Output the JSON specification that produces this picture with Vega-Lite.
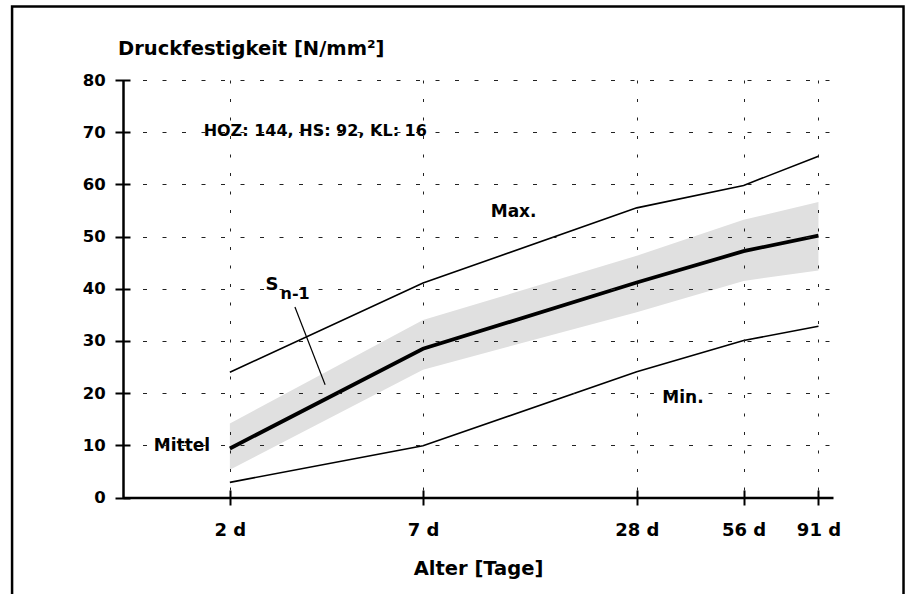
{
  "$schema": "https://vega.github.io/schema/vega-lite/v6.json",
  "width": 710,
  "height": 417.5,
  "autosize": {"type": "none"},
  "padding": {"left": 123, "top": 80, "right": 74, "bottom": 96.5},
  "background": "#ffffff",
  "config": {
    "view": {"stroke": null},
    "text": {"font": "DejaVu Sans", "fontWeight": "bold", "color": "#000000"}
  },
  "datasets": {
    "kurven": [
      {"tag": 2, "typ": "Max", "wert": 24.0},
      {"tag": 7, "typ": "Max", "wert": 41.1},
      {"tag": 28, "typ": "Max", "wert": 55.5},
      {"tag": 56, "typ": "Max", "wert": 59.8},
      {"tag": 91, "typ": "Max", "wert": 65.4},
      {"tag": 2, "typ": "Mittel", "wert": 9.4},
      {"tag": 7, "typ": "Mittel", "wert": 28.5},
      {"tag": 28, "typ": "Mittel", "wert": 41.2},
      {"tag": 56, "typ": "Mittel", "wert": 47.2},
      {"tag": 91, "typ": "Mittel", "wert": 50.2},
      {"tag": 2, "typ": "Min", "wert": 2.9},
      {"tag": 7, "typ": "Min", "wert": 9.9},
      {"tag": 28, "typ": "Min", "wert": 24.1},
      {"tag": 56, "typ": "Min", "wert": 30.1},
      {"tag": 91, "typ": "Min", "wert": 32.8}
    ],
    "streuung": [
      {"tag": 2, "unten": 5.3, "oben": 14.2},
      {"tag": 7, "unten": 24.5, "oben": 34.0},
      {"tag": 28, "unten": 35.5, "oben": 46.3},
      {"tag": 56, "unten": 41.5, "oben": 53.2},
      {"tag": 91, "unten": 43.5, "oben": 56.6}
    ],
    "beschriftung": [
      {"rolle": "kurve", "tag": 1.466, "wert": 9.9, "text": "Mittel"},
      {"rolle": "kurve", "tag": 12.6, "wert": 54.8, "text": "Max."},
      {"rolle": "kurve", "tag": 37.8, "wert": 19.0, "text": "Min."},
      {"rolle": "info", "tag": 1.687, "wert": 70.2, "text": "HOZ: 144, HS: 92, KL: 16"},
      {"rolle": "s", "tag": 2.52, "wert": 39.8, "text": "S"},
      {"rolle": "index", "tag": 2.778, "wert": 38.0, "text": "n-1"}
    ],
    "hinweis": [{"tag": 3.05, "wert": 36.5, "tag2": 3.71, "wert2": 21.6}],
    "rahmen": [{"tag": 0.487, "tag2": 158, "wert": 94.1, "wert2": -23.5}]
  },
  "layer": [
    {
      "layer": [
        {
          "data": {"name": "streuung"},
          "mark": {"type": "area", "color": "#e0e0e0", "opacity": 1},
          "encoding": {
            "x": {
              "field": "tag", "type": "quantitative",
              "scale": {"type": "log", "domain": [1, 100], "nice": false},
              "axis": {
                "orient": "bottom",
                "values": [2, 7, 28, 56, 91],
                "labelExpr": "datum.value + ' d'",
                "ticks": false,
                "domain": true, "domainColor": "#000000", "domainWidth": 2.5,
                "grid": true, "gridColor": "#222222", "gridDash": [3, 15.5], "gridWidth": 1,
                "labelFont": "DejaVu Sans", "labelFontWeight": "bold", "labelFontSize": 18,
                "labelColor": "#000000", "labelBaseline": "alphabetic", "labelPadding": 37.5,
                "labelOverlap": false, "labelFlush": false,
                "title": "Alter [Tage]",
                "titleFont": "DejaVu Sans", "titleFontWeight": "bold", "titleFontSize": 19.5,
                "titleColor": "#000000", "titleBaseline": "alphabetic", "titleAlign": "center",
                "titleX": 355, "titleY": 76.5,
                "zindex": 1
              }
            },
            "y": {
              "field": "unten", "type": "quantitative",
              "scale": {"domain": [0, 80], "nice": false},
              "axis": {
                "orient": "left",
                "values": [0, 5, 10, 15, 20, 25, 30, 35, 40, 45, 50, 55, 60, 65, 70, 75, 80],
                "labelExpr": "datum.value % 10 === 0 ? datum.label : ''",
                "ticks": false,
                "domain": true, "domainColor": "#000000", "domainWidth": 2.5,
                "grid": true, "gridColor": "#222222", "gridDash": [4, 15.5], "gridWidth": 1,
                "labelFont": "DejaVu Sans", "labelFontWeight": "bold", "labelFontSize": 16.5,
                "labelColor": "#000000", "labelBaseline": "middle", "labelAlign": "right",
                "labelPadding": 17.7, "labelOverlap": false, "labelFlush": false,
                "title": "Druckfestigkeit [N/mm²]",
                "titleFont": "DejaVu Sans", "titleFontWeight": "bold", "titleFontSize": 19.5,
                "titleColor": "#000000", "titleAngle": 0, "titleAlign": "left",
                "titleBaseline": "alphabetic", "titleX": -5.5, "titleY": -26,
                "zindex": 1
              }
            },
            "y2": {"field": "oben"}
          }
        },
        {
          "data": {"name": "kurven"},
          "transform": [{"filter": "datum.typ !== 'Mittel'"}],
          "mark": {"type": "line", "color": "#000000", "strokeWidth": 1.6},
          "encoding": {
            "x": {"field": "tag", "type": "quantitative", "scale": {"type": "log", "domain": [1, 100], "nice": false}},
            "y": {"field": "wert", "type": "quantitative", "scale": {"domain": [0, 80], "nice": false}},
            "detail": {"field": "typ"}
          }
        },
        {
          "data": {"name": "kurven"},
          "transform": [{"filter": "datum.typ === 'Mittel'"}],
          "mark": {"type": "line", "color": "#000000", "strokeWidth": 3.8},
          "encoding": {
            "x": {"field": "tag", "type": "quantitative", "scale": {"type": "log", "domain": [1, 100], "nice": false}},
            "y": {"field": "wert", "type": "quantitative", "scale": {"domain": [0, 80], "nice": false}}
          }
        },
        {
          "data": {"name": "hinweis"},
          "mark": {"type": "rule", "color": "#000000", "strokeWidth": 1.2},
          "encoding": {
            "x": {"field": "tag", "type": "quantitative", "scale": {"type": "log", "domain": [1, 100], "nice": false}},
            "y": {"field": "wert", "type": "quantitative", "scale": {"domain": [0, 80], "nice": false}},
            "x2": {"field": "tag2"},
            "y2": {"field": "wert2"}
          }
        },
        {
          "data": {"name": "rahmen"},
          "mark": {"type": "rect", "filled": false, "stroke": "#000000", "strokeWidth": 2.5},
          "encoding": {
            "x": {"field": "tag", "type": "quantitative", "scale": {"type": "log", "domain": [1, 100], "nice": false}},
            "y": {"field": "wert", "type": "quantitative", "scale": {"domain": [0, 80], "nice": false}},
            "x2": {"field": "tag2"},
            "y2": {"field": "wert2"}
          }
        },
        {
          "data": {"name": "beschriftung"},
          "transform": [{"filter": "datum.rolle === 'kurve'"}],
          "mark": {"type": "text", "align": "center", "baseline": "middle", "fontSize": 17},
          "encoding": {
            "x": {"field": "tag", "type": "quantitative", "scale": {"type": "log", "domain": [1, 100], "nice": false}},
            "y": {"field": "wert", "type": "quantitative", "scale": {"domain": [0, 80], "nice": false}},
            "text": {"field": "text"}
          }
        },
        {
          "data": {"name": "beschriftung"},
          "transform": [{"filter": "datum.rolle === 'info'"}],
          "mark": {"type": "text", "align": "left", "baseline": "middle", "fontSize": 16},
          "encoding": {
            "x": {"field": "tag", "type": "quantitative", "scale": {"type": "log", "domain": [1, 100], "nice": false}},
            "y": {"field": "wert", "type": "quantitative", "scale": {"domain": [0, 80], "nice": false}},
            "text": {"field": "text"}
          }
        },
        {
          "data": {"name": "beschriftung"},
          "transform": [{"filter": "datum.rolle === 's'"}],
          "mark": {"type": "text", "align": "left", "baseline": "alphabetic", "fontSize": 18},
          "encoding": {
            "x": {"field": "tag", "type": "quantitative", "scale": {"type": "log", "domain": [1, 100], "nice": false}},
            "y": {"field": "wert", "type": "quantitative", "scale": {"domain": [0, 80], "nice": false}},
            "text": {"field": "text"}
          }
        },
        {
          "data": {"name": "beschriftung"},
          "transform": [{"filter": "datum.rolle === 'index'"}],
          "mark": {"type": "text", "align": "left", "baseline": "alphabetic", "fontSize": 16},
          "encoding": {
            "x": {"field": "tag", "type": "quantitative", "scale": {"type": "log", "domain": [1, 100], "nice": false}},
            "y": {"field": "wert", "type": "quantitative", "scale": {"domain": [0, 80], "nice": false}},
            "text": {"field": "text"}
          }
        }
      ]
    },
    {
      "data": {"name": "kurven"},
      "mark": {"type": "point", "opacity": 0},
      "encoding": {
        "x": {
          "field": "tag", "type": "quantitative",
          "scale": {"type": "log", "domain": [1, 100], "nice": false},
          "axis": {
            "orient": "bottom", "offset": -7.5,
            "values": [2, 7, 28, 56, 91],
            "ticks": true, "tickSize": 15, "tickWidth": 2, "tickColor": "#000000",
            "labels": false, "domain": false, "grid": false, "title": null, "zindex": 1
          }
        },
        "y": {
          "field": "wert", "type": "quantitative",
          "scale": {"domain": [0, 80], "nice": false},
          "axis": {
            "orient": "left", "offset": -7,
            "values": [0, 10, 20, 30, 40, 50, 60, 70, 80],
            "ticks": true, "tickSize": 15, "tickWidth": 2, "tickColor": "#000000",
            "labels": false, "domain": false, "grid": false, "title": null, "zindex": 1
          }
        }
      }
    }
  ],
  "resolve": {"axis": {"x": "independent", "y": "independent"}}
}
